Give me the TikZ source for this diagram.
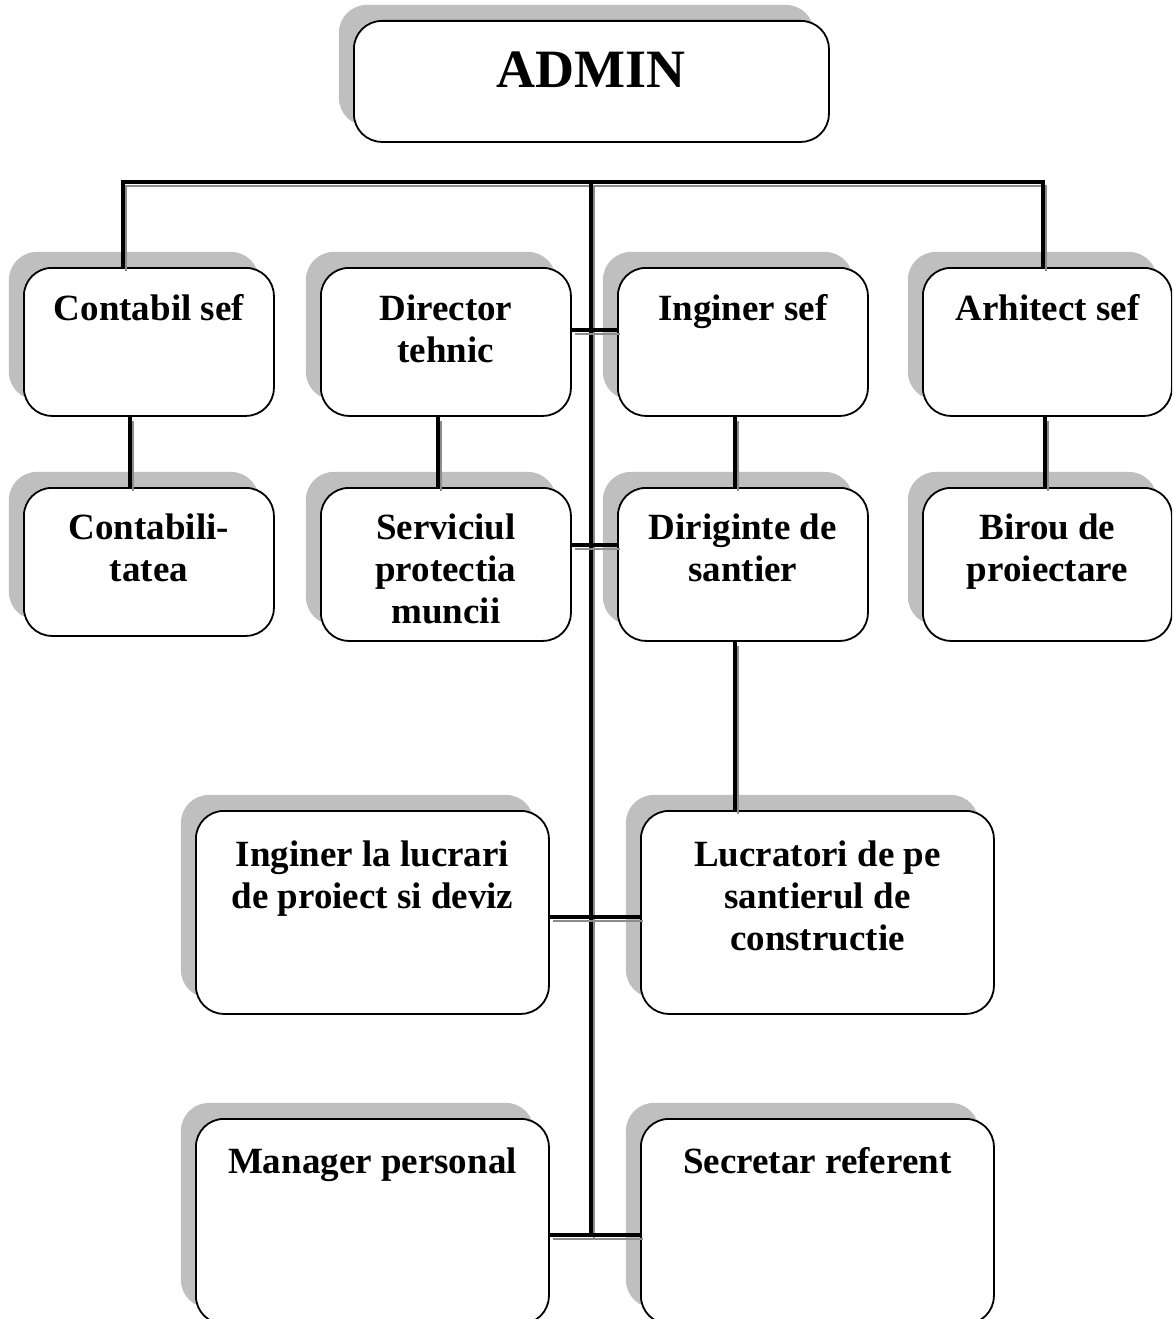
\documentclass[tikz,border=0pt]{standalone}
\usepackage{fontspec}
\setmainfont{Liberation Serif}
\usetikzlibrary{shadows}
\newcommand{\bt}[4]{\parbox[c][#2][t]{#1}{\centering\vspace*{#3}#4\par}}
\tikzset{
  box/.style={draw, line width=1.8pt, rounded corners=28pt, fill=white, inner sep=0pt, anchor=north west,
    copy shadow={shadow xshift=-15pt, shadow yshift=16pt, fill=black!25, draw=none}},
  conn/.style={line width=3.2pt, black,
    preaction={draw=black!45, line width=2.6pt, transform canvas={shift={(3pt,-4pt)}}}},
  lbl/.style={font=\bfseries\fontsize{37}{42}\selectfont}
}
\begin{document}
\begin{tikzpicture}[x=1pt,y=-1pt]
\clip (0,0) rectangle (1172,1319);
\fill[white] (0,0) rectangle (1172,1319);
% boxes
\node[box, font=\bfseries\fontsize{54}{60}\selectfont] (ad) at (353,20) {\bt{475pt}{121pt}{31pt}{ADMIN}};
\node[box,lbl] (cs) at (23,267) {\bt{250pt}{148pt}{27pt}{Contabil sef}};
\node[box,lbl] (dt) at (320,267) {\bt{250pt}{148pt}{27pt}{Director\\tehnic}};
\node[box,lbl] (is) at (617,267) {\bt{250pt}{148pt}{27pt}{Inginer sef}};
\node[box,lbl] (as) at (922,267) {\bt{249pt}{148pt}{27pt}{Arhitect sef}};
\node[box,lbl] (ct) at (23,487) {\bt{250pt}{148pt}{26pt}{Contabili-\\tatea}};
\node[box,lbl] (sp) at (320,487) {\bt{250pt}{153pt}{26pt}{Serviciul\\protectia\\muncii}};
\node[box,lbl] (dg) at (617,487) {\bt{250pt}{153pt}{26pt}{Diriginte de\\santier}};
\node[box,lbl] (bp) at (922,487) {\bt{249pt}{153pt}{26pt}{Birou de\\proiectare}};
\node[box,lbl] (il) at (195,810) {\bt{353pt}{203pt}{30pt}{Inginer la lucrari\\de proiect si deviz}};
\node[box,lbl] (lc) at (640,810) {\bt{353pt}{203pt}{30pt}{Lucratori de pe\\santierul de\\constructie}};
\node[box,lbl] (mp) at (195,1118) {\bt{353pt}{205pt}{29pt}{Manager personal}};
\node[box,lbl] (sr) at (640,1118) {\bt{353pt}{205pt}{29pt}{Secretar referent}};
% coordinates for connectors
\coordinate (busL) at (123,182);
\coordinate (busC) at (591,182);
\coordinate (busR) at (1043,182);
\coordinate (bot) at (591,1235);
\coordinate (h1) at (591,330);
\coordinate (h2) at (591,545);
\coordinate (h3) at (591,917);
\coordinate (h4) at (591,1235);
\coordinate (v1) at (130,0);
\coordinate (v2) at (438,0);
\coordinate (v3) at (735,0);
\coordinate (v4) at (1045,0);
% connectors
\draw[conn] (busL |- cs.north) -- (busL) -- (busR) -- (busR |- as.north);
\draw[conn] (busC) -- (bot);
\draw[conn] (dt.east |- h1) -- (is.west |- h1);
\draw[conn] (sp.east |- h2) -- (dg.west |- h2);
\draw[conn] (il.east |- h3) -- (lc.west |- h3);
\draw[conn] (mp.east |- h4) -- (sr.west |- h4);
\draw[conn] (cs.south -| v1) -- (ct.north -| v1);
\draw[conn] (dt.south -| v2) -- (sp.north -| v2);
\draw[conn] (is.south -| v3) -- (dg.north -| v3);
\draw[conn] (as.south -| v4) -- (bp.north -| v4);
\draw[conn] (dg.south -| v3) -- (lc.north -| v3);
\end{tikzpicture}
\end{document}
